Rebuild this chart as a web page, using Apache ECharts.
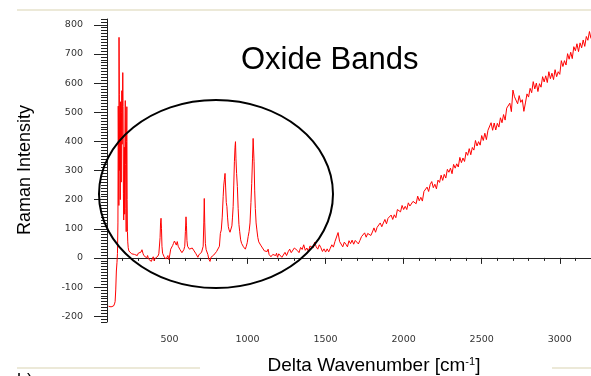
<!DOCTYPE html>
<html><head><meta charset="utf-8">
<script src="https://cdn.jsdelivr.net/npm/echarts@6/dist/echarts.min.js"></script>
<style>html,body{margin:0;padding:0;background:#fff}#c{width:591px;height:376px}</style>
</head><body><div id="c"></div>
<script>
const xMajorTicks = [500, 1000, 1500, 2000, 2500, 3000];
const yMajorTicks = [-200, -100, 0, 100, 200, 300, 400, 500, 600, 700, 800];

// [delta wavenumber (cm^-1), Raman intensity]
const fingerprintRegion = [
[110,-166],[118,-163],[126,-168],[134,-162],[142,-165],[148,-158],[152,-150],[156,-110],[160,-45],[164,-15],[167,15],[170,120],
[172,521],[174,380],[176,180],[177,757],[179,560],[181,300],[183,420],[185,200],[187,536],[189,430],[191,260],[193,500],[195,574],
[197,390],[199,540],[201,636],[203,520],[205,220],[207,130],[209,300],[211,380],[213,150],[215,420],[217,540],[219,320],[221,170],
[223,90],[225,400],[227,519],[229,200],[231,90],[233,55],[236,35],[240,24],[246,18],[252,22],[258,14],[264,19],[270,10],[276,12],
[282,6],[288,13],[294,8],[300,16],[306,10],[312,18],[318,20],[324,28],[330,16],[336,8],[342,11],[348,4],[354,0],[360,8],[366,-4],
[372,2],[378,-8],[384,-12],[390,-3],[396,4],[402,-10],[408,-2],[414,-8],[420,-4],[426,6],[432,14],[436,20],[440,70],[443,120],
[446,136],[449,100],[452,40],[456,16],[460,10],[466,4],[472,0],[478,-4],[484,-2],[490,8],[496,-6],[502,10],[508,30],[514,36],
[520,42],[526,50],[532,58],[538,52],[544,44],[550,56],[556,40],[562,34],[568,28],[574,24],[580,18],[586,20],[592,28],[598,40],
[602,90],[606,141],[609,110],[612,60],[616,40],[622,36],[628,30],[634,32],[640,26],[646,34],[652,28],[658,24],[664,18],[670,14],
[676,8],[682,2],[688,10],[694,6],[700,14],[706,20],[712,18],[716,40],[720,120],[723,204],[726,120],[730,50],[735,28],[740,22],
[746,12],[752,-4],[756,-8],[760,-12],[766,2],[772,-4],[778,6],[784,10],[790,4],[796,16],[802,22],[808,26],[814,18],[820,40],
[826,84],[832,96],[838,140],[844,210],[848,250],[852,270],[856,290],[860,240],[864,190],[868,176],[872,140],[877,107],[882,96],
[888,88],[894,84],[900,110],[904,140],[908,176],[912,250],[916,330],[920,380],[923,399],[926,340],[930,290],[935,245],[940,170],
[945,115],[950,90],[956,62],[962,50],[968,44],[974,38],[980,34],[986,30],[992,40],[998,52],[1004,73],[1010,90],[1016,120],
[1022,190],[1027,256],[1032,340],[1036,410],[1039,416],[1042,330],[1046,230],[1050,170],[1055,120],[1060,96],[1066,70],[1072,55],
[1078,50],[1084,44],[1090,40],[1096,34],[1102,36],[1108,24],[1114,30],[1120,28],[1126,22],[1132,30],[1138,12],[1144,18],[1150,4],
[1156,-2],[1162,12],[1168,6],[1174,14],[1180,8],[1186,16],[1192,2]
];

const backgroundRegion = [
[1200,14],[1210,19],[1220,2],[1230,7],[1240,19],[1250,8],[1260,21],[1270,30],[1280,18],[1290,19],[1300,34],[1310,40],[1320,25],
[1330,18],[1340,36],[1350,29],[1360,45],[1370,26],[1380,34],[1390,22],[1400,41],[1410,38],[1420,34],[1430,54],[1440,38],[1450,30],
[1460,45],[1470,35],[1480,22],[1490,31],[1500,20],[1510,31],[1520,21],[1530,33],[1540,45],[1550,37],[1560,56],[1570,51],[1580,87],
[1590,56],[1600,53],[1610,38],[1620,54],[1630,47],[1640,38],[1650,59],[1660,49],[1670,61],[1680,47],[1690,60],[1700,66],[1710,48],
[1720,60],[1730,73],[1740,67],[1750,86],[1760,71],[1770,84],[1780,88],[1790,77],[1800,89],[1810,103],[1820,88],[1830,105],[1840,100],
[1850,120],[1860,107],[1870,120],[1880,132],[1890,117],[1900,136],[1910,130],[1920,147],[1930,132],[1940,148],[1950,138],[1960,166],
[1970,162],[1980,158],[1990,180],[2000,166],[2010,177],[2020,166],[2030,189],[2040,178],[2050,173],[2060,194],[2070,193],[2080,186],
[2090,212],[2100,196],[2110,208],[2120,195],[2130,228],[2140,223],[2150,243],[2160,228],[2170,252],[2180,262],[2190,241],[2200,253],
[2210,237],[2220,267],[2230,259],[2240,284],[2250,266],[2260,287],[2270,274],[2280,304],[2290,294],[2300,308],[2310,289],[2320,321],
[2330,308],[2340,323],[2350,312],[2360,345],[2370,327],[2380,343],[2390,331],[2400,363],[2410,352],[2420,375],[2430,354],[2440,379],
[2450,370],[2460,403],[2470,384],[2480,399],[2490,387],[2500,420],[2510,403],[2520,428],[2530,406],[2540,438],[2550,437],[2560,464],
[2570,438],[2580,463],[2590,439],[2600,462],[2610,449],[2620,481],[2630,464],[2640,492],[2650,473],[2660,514],[2670,516],[2680,531],
[2690,502],[2700,576],[2710,553],[2720,558],[2730,529],[2740,557],[2750,534],[2760,543],[2770,503],[2780,532],[2790,563],[2800,552],
[2810,582],[2820,567],[2830,605],[2840,580],[2850,600],[2860,571],[2870,598],[2880,586],[2890,622],[2900,604],[2910,625],[2920,602],
[2930,639],[2940,615],[2950,634],[2960,612],[2970,646],[2980,622],[2990,639],[3000,630],[3010,677],[3020,657],[3030,677],[3040,662],
[3050,701],[3060,682],[3070,706],[3080,684],[3090,725],[3100,711],[3110,735],[3120,708],[3130,738],[3140,721],[3150,748],[3160,726],
[3170,760],[3180,747],[3190,777],[3200,753]
];

const spectrum = fingerprintRegion.concat(backgroundRegion);

const chart = echarts.init(document.getElementById('c'), null, {renderer: 'canvas'});
const tickColor = '#222';
const plain = v => String(v);
const labelStyle = {fontFamily: 'DejaVu Sans', fontSize: 9.5, color: '#333', formatter: plain};

const option = {
  animation: false,
  grid: {left: 107, right: 0, top: 19, bottom: 54},
  xAxis: [
    {type: 'value', min: 100, max: 3200, interval: 100, position: 'bottom',
     axisLine: {show: true, lineStyle: {color: tickColor, width: 1}},
     axisTick: {show: true, length: 3, lineStyle: {color: tickColor}},
     axisLabel: {show: false}, splitLine: {show: false}},
    {type: 'value', min: 100, max: 3200, position: 'bottom', offset: 0,
     axisLine: {show: false},
     axisTick: {show: true, customValues: xMajorTicks, length: 6, lineStyle: {color: tickColor}},
     axisLabel: Object.assign({show: true, customValues: xMajorTicks, margin: 13}, labelStyle),
     splitLine: {show: false}}
  ],
  yAxis: [
    {type: 'value', min: -220, max: 820, interval: 10, position: 'left',
     axisLine: {show: true, lineStyle: {color: tickColor, width: 1}},
     axisTick: {show: true, length: 6, lineStyle: {color: tickColor}},
     axisLabel: {show: false}, splitLine: {show: false}},
    {type: 'value', min: -220, max: 820, position: 'left', offset: 0,
     axisLine: {show: false},
     axisTick: {show: true, customValues: yMajorTicks, length: 13, lineStyle: {color: tickColor}},
     axisLabel: Object.assign({show: true, customValues: yMajorTicks, margin: 24}, labelStyle),
     splitLine: {show: false}}
  ],
  series: [{
    type: 'line', xAxisIndex: 0, yAxisIndex: 0, data: spectrum,
    showSymbol: false, symbol: 'none', silent: true,
    lineStyle: {color: '#ff0000', width: 1}
  }],
  graphic: [
    {type: 'rect', shape: {x: 17, y: 9, width: 574, height: 2}, style: {fill: '#ECE9D8'}},
    {type: 'rect', shape: {x: 17, y: 367, width: 183, height: 2}, style: {fill: '#ECE9D8'}},
    {type: 'rect', shape: {x: 552, y: 367, width: 39, height: 2}, style: {fill: '#ECE9D8'}},
    {type: 'ellipse', z: 100, shape: {cx: 216, cy: 194, rx: 117, ry: 94},
     style: {fill: 'none', stroke: '#000', lineWidth: 2}},
    {type: 'text', z: 100, x: 241, y: 60,
     style: {text: 'Oxide Bands', font: '31px "Liberation Sans", Arial, sans-serif', fill: '#000', align: 'left', verticalAlign: 'middle'}},
    {type: 'text', z: 100, x: 25, y: 170, rotation: Math.PI / 2,
     style: {text: 'Raman Intensity', font: '18px "Liberation Sans", Arial, sans-serif', fill: '#000', align: 'center', verticalAlign: 'middle'}},
    {type: 'text', z: 100, x: 374, y: 366,
     style: {
       text: '{a|Delta Wavenumber [cm}{s|-1}{a|]}',
       align: 'center', verticalAlign: 'middle',
       rich: {
         a: {fontFamily: '"Liberation Sans", Arial, sans-serif', fontSize: 19, fill: '#000', color: '#000'},
         s: {fontFamily: '"Liberation Sans", Arial, sans-serif', fontSize: 11, fill: '#000', color: '#000', verticalAlign: 'top', padding: [0, 0, 8, 0]}
       }
     }},
    {type: 'text', z: 100, x: 17, y: 372,
     style: {text: 'b)', font: '18px "Liberation Sans", Arial, sans-serif', fill: '#000', align: 'left', verticalAlign: 'top'}}
  ]
};
chart.setOption(option);
</script>
</body></html>
